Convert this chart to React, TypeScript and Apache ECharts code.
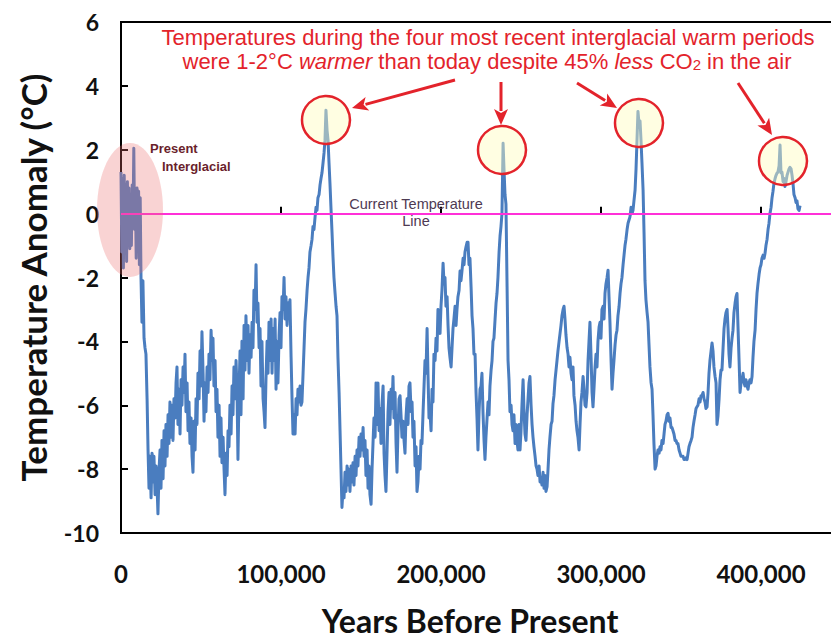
import React, { useEffect, useRef } from 'react';
import * as echarts from 'echarts';

// Temperature anomaly (°C) versus years before present, split by glacial cycle.
const cyclePresent: [number, number][] = [
  [0, 1.3], [500, -1.2], [1000, 1.1], [1500, -1.7], [2000, 1.2], [2500, -0.8], [3000, 0.9], [3500, -1.5],
  [4000, 1.0], [4500, -0.6], [5000, 0.8], [5500, -1.1], [6000, 0.6], [6500, -1.0], [7000, 0.9], [7500, -0.3],
  [8000, 2.05], [8500, -0.5], [9000, 0.6], [9500, -1.4], [10000, 0.8], [10500, -0.2], [11000, 0.7], [11500, -1.6],
  [12000, 0.5], [12500, -2.0], [13100, -3.4], [13700, -2.1], [14400, -3.9], [15000, -4.2], [15600, -4.4],
  [16300, -5.8], [16900, -7.4], [17500, -8.6], [18100, -7.6], [18800, -8.9], [19400, -7.5], [20000, -8.4],
  [20600, -7.6], [21300, -8.8], [21900, -7.9], [22500, -8.5], [23100, -9.4], [23800, -8.0], [24400, -7.4],
  [25000, -8.6], [25600, -7.1], [26300, -8.3], [26900, -6.8], [27500, -7.9], [28100, -6.6], [28800, -7.6],
  [29400, -6.3], [30000, -7.2], [30600, -5.9], [31300, -7.0], [31900, -6.0], [32500, -7.1], [33100, -5.8],
  [33800, -6.4], [34400, -5.3], [35000, -4.8], [35600, -6.6], [36300, -5.5], [36900, -6.9], [37500, -5.2],
  [38100, -6.0], [38800, -4.8], [39400, -5.6], [40000, -4.4], [40600, -6.2], [41300, -5.3], [41900, -6.8],
  [42500, -5.9], [43100, -7.2], [43800, -6.4], [44400, -7.6], [45000, -8.1], [45600, -6.5], [46300, -7.4],
  [46900, -5.8], [47500, -6.6], [48100, -5.0], [48800, -5.8], [49400, -4.3], [50000, -5.4], [50600, -3.7],
  [51300, -5.0], [51900, -6.5], [52500, -5.3], [53100, -6.2], [53800, -4.8], [54400, -5.6], [55000, -4.4],
  [55600, -5.2], [56300, -3.65], [56900, -4.6], [57500, -3.9], [58100, -5.4], [58800, -4.6], [59400, -6.2],
  [60000, -5.5], [60600, -7.0], [61300, -6.0], [61900, -7.6], [62500, -6.4], [63100, -7.8], [63800, -7.0],
  [64400, -8.0], [65000, -8.8], [65600, -7.5], [66300, -8.2], [66900, -6.8], [67500, -7.3], [68100, -6.0],
  [68800, -6.9], [69400, -5.4], [70000, -6.3], [70600, -4.8], [71300, -5.8], [71900, -4.6], [72500, -5.5],
  [73100, -7.7], [73800, -5.5], [74400, -4.3], [75000, -6.3], [75600, -4.0], [76300, -5.8], [76900, -3.5],
  [77500, -4.9], [78100, -3.2], [78800, -4.6], [79400, -3.5], [80000, -5.0], [80600, -3.8], [81300, -4.5],
  [81900, -3.4], [82500, -4.2], [83100, -2.4], [83800, -3.0], [84400, -1.6], [85000, -3.4], [85600, -2.8],
  [86300, -4.2], [86900, -3.6], [87500, -5.4], [88100, -4.0], [88800, -5.8], [89400, -6.2], [90000, -6.7],
  [90600, -5.2], [91300, -4.0], [91900, -5.0], [92500, -3.4], [93100, -4.6], [93800, -3.3], [94400, -5.0],
  [95000, -3.6], [95600, -4.6], [96300, -3.3], [96900, -5.5], [97500, -4.0], [98100, -5.3], [98800, -3.8],
  [99400, -3.1],
];

const cycleEemian: [number, number][] = [
  [100000, -4.2], [100600, -2.6], [101300, -3.0], [101900, -2.0], [102500, -3.3], [103100, -2.6], [103800, -3.5],
  [104400, -2.8], [105000, -3.0], [105600, -2.7], [106300, -4.5], [106900, -5.8], [107500, -6.9], [108100, -6.3],
  [108800, -6.9], [109400, -5.8], [110000, -6.3], [110600, -5.5], [111300, -5.9], [111900, -5.4], [112500, -6.0],
  [113100, -5.9], [113800, -5.0], [114400, -4.2], [115000, -3.4], [115600, -3.0], [116300, -2.4], [116900, -2.0],
  [117500, -1.7], [118100, -1.2], [118800, -1.0], [119400, -0.8], [120000, -0.4], [120600, -0.5], [121300, -0.1],
  [121900, 0.2], [122500, 0.1], [123100, 0.5], [123800, 0.6], [124400, 0.9], [125000, 1.1], [125600, 1.27],
  [126300, 1.6], [126900, 1.9], [127500, 2.3], [128100, 3.24], [128800, 2.6], [129400, 2.3], [130000, 1.6],
  [130600, 0.95], [131300, 0.1], [131900, -0.6], [132500, -1.35], [133100, -2.0], [133800, -2.5], [134400, -2.9],
  [135000, -3.2], [135600, -4.5], [136300, -5.6], [136900, -6.8], [137500, -8.0], [138100, -9.2], [138800, -8.6],
  [139400, -8.9], [140000, -8.1], [140600, -8.7], [141300, -7.9], [141900, -8.5], [142500, -8.0], [143100, -8.7],
  [143800, -7.9], [144400, -8.4], [145000, -7.8], [145600, -8.5], [146300, -7.6], [146900, -8.2], [147500, -7.4],
  [148100, -7.9], [148800, -7.0], [149400, -7.6], [150000, -6.9], [150600, -7.4], [151300, -6.7], [151900, -7.6],
  [152500, -7.1], [153100, -8.2], [153800, -7.4], [154400, -8.6], [155000, -7.9], [155600, -8.8], [156300, -9.1],
  [156900, -8.0], [157500, -7.2], [158100, -6.4], [158800, -7.0], [159400, -5.3], [160000, -6.6], [160600, -5.3],
  [161300, -6.8], [161900, -6.1], [162500, -7.2], [163100, -6.0], [163800, -5.4], [164400, -7.5], [165000, -8.2],
  [165600, -8.7], [166300, -7.4], [166900, -6.2], [167500, -5.6], [168100, -6.6], [168800, -5.5], [169400, -6.1],
  [170000, -5.1], [170600, -6.4], [171300, -5.6], [171900, -7.2], [172500, -8.1], [173100, -6.8], [173800, -5.8],
  [174400, -5.7], [175000, -6.3], [175600, -7.0], [176300, -6.5], [176900, -7.1], [177500, -7.5], [178100, -6.4],
  [178800, -5.8], [179400, -6.6], [180000, -5.4], [180600, -5.3], [181300, -6.2], [181900, -5.9], [182500, -7.0],
  [183100, -6.5], [183800, -7.9], [184400, -7.3], [185000, -8.7], [185600, -8.4], [186300, -7.6], [186900, -8.0],
  [187500, -7.1], [188100, -7.2], [188800, -6.2], [189400, -5.4], [190000, -4.6], [190600, -5.0], [191300, -3.6],
  [191900, -5.1], [192500, -6.4], [193100, -6.2], [193800, -6.8], [194400, -5.5], [195000, -5.9], [195600, -4.4],
  [196300, -4.6], [196900, -3.9], [197500, -4.3], [198100, -3.0], [198800, -3.6], [199400, -3.75],
];

const cycleMIS7: [number, number][] = [
  [200000, -2.9], [200600, -2.4], [201300, -1.55], [201900, -2.2], [202500, -2.0], [203100, -2.9], [203800, -2.6],
  [204400, -3.5], [205000, -4.2], [205600, -4.5], [206300, -4.8], [206900, -4.2], [207500, -3.6], [208100, -3.3],
  [208800, -2.9], [209400, -3.5], [210000, -3.0], [210600, -2.6], [211300, -2.4], [211900, -1.8], [212500, -2.1],
  [213100, -1.8], [213800, -1.4], [214400, -1.6], [215000, -1.2], [215600, -1.05], [216300, -0.9], [216900, -0.9],
  [217500, -1.6], [218100, -1.4], [218800, -2.3], [219400, -3.2], [220000, -3.6], [220600, -4.4], [221300, -4.4],
  [221900, -5.6], [222500, -6.4], [223100, -7.4], [223800, -6.2], [224400, -5.5], [225000, -5.4], [225600, -5.0],
  [226300, -6.3], [226900, -7.1], [227500, -7.7], [228100, -7.0], [228800, -6.4], [229400, -5.9], [230000, -6.3],
  [230600, -5.4], [231300, -4.9], [231900, -4.6], [232500, -4.0], [233100, -3.9], [233800, -3.3], [234400, -2.8],
  [235000, -2.5], [235600, -2.0], [236300, -1.2], [236900, -0.7], [237500, -0.4], [238100, 0.0], [238800, 2.2],
  [239400, 1.36], [240000, 0.6], [240600, 0.3], [241300, -2.3], [241900, -4.6], [242500, -5.2], [243100, -6.2],
  [243800, -6.0], [244400, -6.6], [245000, -6.8], [245600, -6.3], [246300, -7.2], [246900, -6.6], [247500, -7.1],
  [248100, -7.4], [248800, -6.6], [249400, -7.4], [250000, -6.8], [250600, -6.0], [251300, -5.2], [251900, -6.2],
  [252500, -6.9], [253100, -7.1], [253800, -6.3], [254400, -5.8], [255000, -5.3], [255600, -5.1], [256300, -6.0],
  [256900, -6.6], [257500, -7.0], [258100, -7.3], [258800, -7.6], [259400, -7.9], [260000, -8.0], [260600, -8.2],
  [261300, -7.9], [261900, -8.4], [262500, -8.3], [263100, -8.5], [263800, -8.1], [264400, -8.6], [265000, -8.2],
  [265600, -8.7], [266300, -8.55], [266900, -8.0], [267500, -7.4], [268100, -7.0], [268800, -6.6], [269400, -6.5],
  [270000, -5.95], [270600, -5.7], [271300, -5.2], [271900, -4.9], [272500, -4.6], [273100, -4.3], [273800, -4.0],
  [274400, -3.75], [275000, -3.5], [275600, -3.2], [276300, -3.0], [276900, -2.9], [277500, -3.3], [278100, -3.8],
  [278800, -4.2], [279400, -4.4], [280000, -4.8], [280600, -4.5], [281300, -5.0], [281900, -5.2], [282500, -4.8],
  [283100, -5.7], [283800, -6.0], [284400, -6.5], [285000, -6.8], [285600, -7.0], [286300, -7.4], [286900, -6.6],
  [287500, -5.9], [288100, -5.6], [288800, -5.1], [289400, -5.5], [290000, -6.0], [290600, -6.05], [291300, -5.6],
  [291900, -4.6], [292500, -4.0], [293100, -3.4], [293800, -4.5], [294400, -5.6], [295000, -6.05], [295600, -5.5],
  [296300, -4.8], [296900, -4.4], [297500, -4.8], [298100, -4.0], [298800, -3.55], [299400, -3.4],
];

const cycleMIS9: [number, number][] = [
  [300000, -3.9], [300600, -3.0], [301300, -2.9], [301900, -3.3], [302500, -2.5], [303100, -2.2], [303800, -2.0],
  [304400, -1.77], [305000, -2.6], [305600, -3.4], [306300, -4.6], [306900, -5.5], [307500, -5.0], [308100, -4.6],
  [308800, -4.1], [309400, -3.8], [310000, -3.65], [310600, -3.2], [311300, -2.9], [311900, -2.5], [312500, -2.2],
  [313100, -2.0], [313800, -1.6], [314400, -1.3], [315000, -1.0], [315600, -0.8], [316300, -0.5], [316900, -0.3],
  [317500, -0.2], [318100, -0.1], [318800, 0.2], [319400, 0.0], [320000, 0.1], [320600, 0.4], [321300, 0.74],
  [321900, 1.4], [322500, 2.3], [323100, 3.2], [323800, 2.8], [324400, 2.9], [325000, 2.3], [325600, 1.6],
  [326300, 0.74], [326900, -0.6], [327500, -2.1], [328100, -2.7], [328800, -3.1], [329400, -3.4], [330000, -4.1],
  [330600, -4.8], [331300, -5.3], [331900, -5.5], [332500, -6.3], [333100, -7.2], [333800, -8.0], [334400, -7.9],
  [335000, -7.6], [335600, -7.4], [336300, -7.5], [336900, -7.3], [337500, -7.4], [338100, -7.1], [338800, -7.2],
  [339400, -6.9], [340000, -6.6], [340600, -6.5], [341300, -6.3], [341900, -6.25], [342500, -6.5], [343100, -6.4],
  [343800, -6.7], [344400, -6.7], [345000, -6.8], [345600, -6.9], [346300, -7.1], [346900, -7.1], [347500, -7.2],
  [348100, -7.2], [348800, -7.4], [349400, -7.5], [350000, -7.6], [350600, -7.6], [351300, -7.6], [351900, -7.7],
  [352500, -7.7], [353100, -7.65], [353800, -7.7], [354400, -7.5], [355000, -7.3], [355600, -7.2], [356300, -7.1],
  [356900, -7.0], [357500, -6.7], [358100, -6.5], [358800, -6.3], [359400, -6.1], [360000, -6.05], [360600, -6.0],
  [361300, -5.8], [361900, -5.9], [362500, -5.7], [363100, -5.7], [363800, -5.6], [364400, -5.8], [365000, -5.9],
  [365600, -6.1], [366300, -6.05], [366900, -5.6], [367500, -5.0], [368100, -4.6], [368800, -4.3], [369400, -4.05],
  [370000, -4.3], [370600, -4.8], [371300, -5.1], [371900, -5.3], [372500, -6.6], [373100, -6.35], [373800, -5.8],
  [374400, -5.2], [375000, -4.9], [375600, -4.9], [376300, -4.2], [376900, -3.6], [377500, -3.3], [378100, -3.1],
  [378800, -3.0], [379400, -3.6], [380000, -4.4], [380600, -4.8], [381300, -4.2], [381900, -3.9], [382500, -3.65],
  [383100, -3.1], [383800, -2.8], [384400, -2.6], [385000, -2.5], [385600, -3.5], [386300, -4.6], [386900, -5.6],
  [387500, -5.3], [388100, -5.2], [388800, -5.0], [389400, -5.3], [390000, -5.4], [390600, -5.2], [391300, -5.4],
  [391900, -5.5], [392500, -5.3], [393100, -5.2], [393800, -5.3], [394400, -5.1], [395000, -4.5], [395600, -4.0],
  [396300, -3.65], [396900, -3.0], [397500, -2.5], [398100, -2.2], [398800, -1.9], [399400, -1.7],
];

const cycleMIS11: [number, number][] = [
  [400000, -1.6], [400600, -1.4], [401300, -1.3], [401900, -1.4], [402500, -1.25], [403100, -1.0], [403800, -0.8],
  [404400, -0.5], [405000, -0.3], [405600, 0.0], [406300, 0.2], [406900, 0.5], [407500, 0.7], [408100, 0.95],
  [408800, 1.1], [409400, 1.2], [410000, 1.27], [410600, 1.3], [411300, 1.5], [411900, 2.15], [412500, 1.27],
  [413100, 1.3], [413800, 1.0], [414400, 1.1], [415000, 0.85], [415600, 1.0], [416300, 1.2], [416900, 1.3],
  [417500, 1.4], [418100, 1.45], [418800, 1.4], [419400, 1.2], [420000, 0.95], [420600, 0.6], [421300, 0.5],
  [421900, 0.35], [422500, 0.4], [423100, 0.15], [423800, 0.1], [424400, 0.25],
];

const temperatureRecord = [
  ...cyclePresent,
  ...cycleEemian,
  ...cycleMIS7,
  ...cycleMIS9,
  ...cycleMIS11,
];

const xTickValues = [0, 100000, 200000, 300000, 400000];
const yTickValues = [-10, -8, -6, -4, -2, 0, 2, 4, 6];

const AXIS_FONT = 'Lato, "Open Sans", sans-serif';
const NOTE_FONT = '"Liberation Sans", Arial, sans-serif';
const RED = '#e3232b';

function arrow(x1: number, y1: number, x2: number, y2: number) {
  const dx = x2 - x1;
  const dy = y2 - y1;
  const len = Math.sqrt(dx * dx + dy * dy);
  const ux = dx / len;
  const uy = dy / len;
  const head = 16;
  const half = 7;
  const bx = x2 - ux * head;
  const by = y2 - uy * head;
  return [
    {
      type: 'line',
      z: 100,
      shape: { x1, y1, x2: bx + ux * 2, y2: by + uy * 2 },
      style: { stroke: RED, lineWidth: 3 },
    },
    {
      type: 'polygon',
      z: 100,
      shape: {
        points: [
          [x2, y2],
          [bx - uy * half, by + ux * half],
          [bx + ux * 4, by + uy * 4],
          [bx + uy * half, by - ux * half],
        ],
      },
      style: { fill: RED },
    },
  ];
}

function ring(cx: number, cy: number) {
  return {
    type: 'circle',
    z: 100,
    shape: { cx, cy, r: 24 },
    style: { fill: 'rgba(255,252,190,0.45)', stroke: RED, lineWidth: 2.5 },
  };
}

export default function App() {
  const ref = useRef<HTMLDivElement>(null);

  useEffect(() => {
    if (!ref.current) return;
    const chart = echarts.init(ref.current, undefined, { renderer: 'svg' });

    chart.setOption({
      animation: false,
      backgroundColor: '#ffffff',
      grid: {
        left: 121,
        top: 22,
        width: 720,
        height: 511,
        outerBoundsMode: 'none',
        containLabel: false,
        show: true,
        borderColor: '#000',
        borderWidth: 2,
        backgroundColor: 'transparent',
      },
      xAxis: {
        type: 'value',
        min: 0,
        max: 450000,
        interval: 100000,
        name: 'Years Before Present',
        nameLocation: 'middle',
        nameGap: 71,
        nameTextStyle: {
          fontFamily: AXIS_FONT,
          fontWeight: 'bold',
          fontSize: 32,
          color: '#111',
          padding: [0, 22, 0, 0],
        },
        axisLine: { lineStyle: { color: '#000', width: 2 } },
        axisTick: { inside: true, length: 7, lineStyle: { color: '#000', width: 2 } },
        axisLabel: {
          margin: 28,
          fontFamily: AXIS_FONT,
          fontWeight: 'bold',
          fontSize: 24,
          color: '#111',
          showMaxLabel: false,
          formatter: (v: number) => (xTickValues.includes(v) ? v.toLocaleString('en-US') : ''),
        },
        splitLine: { show: false },
      },
      yAxis: {
        type: 'value',
        min: -10,
        max: 6,
        interval: 2,
        name: 'Temperature Anomaly (°C)',
        nameLocation: 'middle',
        nameGap: 71,
        nameTextStyle: { fontFamily: AXIS_FONT, fontWeight: 'bold', fontSize: 35, color: '#111' },
        axisLine: { lineStyle: { color: '#000', width: 2 } },
        axisTick: { inside: true, length: 7, lineStyle: { color: '#000', width: 2 } },
        axisLabel: {
          margin: 22,
          fontFamily: AXIS_FONT,
          fontWeight: 'bold',
          fontSize: 23,
          color: '#111',
          formatter: (v: number) => (yTickValues.includes(v) ? String(v) : ''),
        },
        splitLine: { show: false },
      },
      series: [
        {
          type: 'line',
          data: temperatureRecord,
          showSymbol: false,
          lineStyle: { color: '#4a7dbf', width: 3, join: 'round' },
          z: 3,
          markLine: {
            silent: true,
            symbol: ['none', 'none'],
            label: { show: false },
            lineStyle: { color: '#ff30d8', width: 2, type: 'solid' },
            data: [{ yAxis: 0 }],
          },
        },
      ],
      graphic: [
        {
          type: 'ellipse',
          z: 90,
          shape: { cx: 130, cy: 210, rx: 33, ry: 67 },
          style: { fill: 'rgba(236,110,110,0.3)' },
        },
        ring(326, 120),
        ring(502, 150),
        ring(639, 123),
        ring(783, 161),
        ...arrow(455, 80, 352, 108),
        ...arrow(501, 82, 501, 125),
        ...arrow(577, 83, 617, 108),
        ...arrow(738, 83, 772, 135),
        {
          type: 'text',
          z: 100,
          style: {
            x: 150,
            y: 142,
            text: 'Present',
            font: `bold 13px ${NOTE_FONT}`,
            fill: '#6a1f2c',
          },
        },
        {
          type: 'text',
          z: 100,
          style: {
            x: 162,
            y: 160,
            text: 'Interglacial',
            font: `bold 13px ${NOTE_FONT}`,
            fill: '#6a1f2c',
          },
        },
        {
          type: 'text',
          z: 100,
          style: {
            x: 416,
            y: 196,
            text: 'Current Temperature',
            align: 'center',
            font: `14.5px ${NOTE_FONT}`,
            fill: '#4e3a52',
          },
        },
        {
          type: 'text',
          z: 100,
          style: {
            x: 416,
            y: 213,
            text: 'Line',
            align: 'center',
            font: `14.5px ${NOTE_FONT}`,
            fill: '#4e3a52',
          },
        },
        {
          type: 'text',
          z: 100,
          style: {
            x: 488,
            y: 26,
            text: 'Temperatures during the four most recent interglacial warm periods',
            align: 'center',
            font: `22px ${NOTE_FONT}`,
            fill: RED,
          },
        },
        {
          type: 'text',
          z: 100,
          style: {
            x: 487,
            y: 50,
            align: 'center',
            text:
              '{n|were 1-2°C }{i|warmer}{n| than today despite 45% }{i|less}{n| CO}{s|2}{n| in the air}',
            rich: {
              n: { fontFamily: NOTE_FONT, fontSize: 22, fill: RED, color: RED },
              i: { fontFamily: NOTE_FONT, fontSize: 22, fontStyle: 'italic', fill: RED, color: RED },
              s: { fontFamily: NOTE_FONT, fontSize: 15, fill: RED, color: RED, padding: [6, 0, 0, 0] },
            },
          },
        },
      ],
    });

    return () => chart.dispose();
  }, []);

  return (
    <div
      ref={ref}
      style={{ position: 'fixed', left: 0, top: 0, width: 831, height: 640, background: '#fff' }}
    />
  );
}
